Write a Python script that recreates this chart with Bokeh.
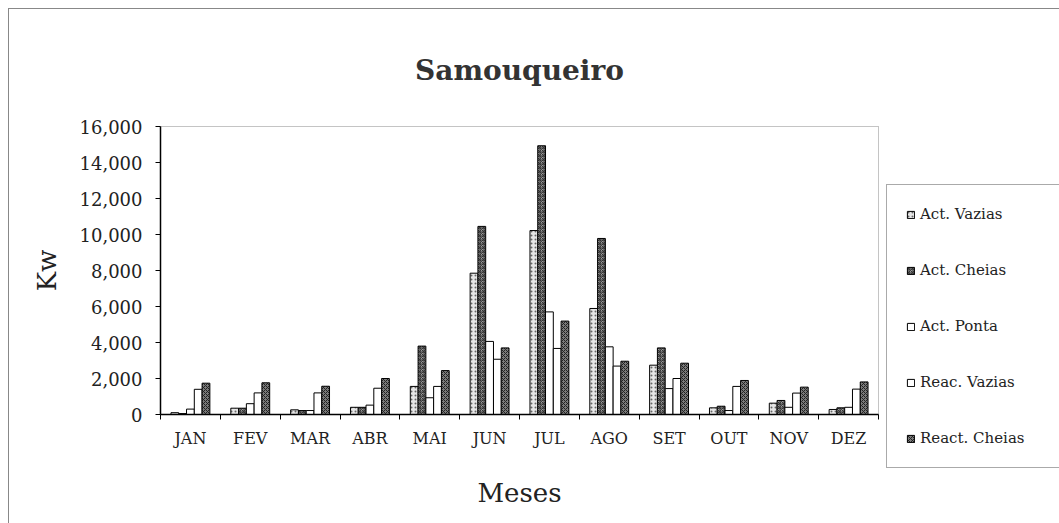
import numpy as np
from bokeh.plotting import figure
from bokeh.layouts import row, column
from bokeh.models import (ColumnDataSource, FixedTicker, NumeralTickFormatter,
                          Legend, LegendItem, Title, Range1d)
from bokeh.embed import file_html
from bokeh.resources import INLINE

months = ["JAN", "FEV", "MAR", "ABR", "MAI", "JUN", "JUL", "AGO", "SET", "OUT", "NOV", "DEZ"]
series = ["Act. Vazias", "Act. Cheias", "Act. Ponta", "Reac. Vazias", "React. Cheias"]

act_vazias = [100, 350, 260, 400, 1560, 7850, 10220, 5890, 2740, 370, 630, 280]
act_cheias = [50, 350, 220, 400, 3800, 10450, 14930, 9780, 3700, 460, 780, 370]
act_ponta = [300, 600, 220, 520, 930, 4060, 5700, 3760, 1440, 220, 400, 400]
reac_vazias = [1400, 1200, 1200, 1460, 1560, 3070, 3670, 2690, 2000, 1560, 1190, 1410]
reac_cheias = [1740, 1760, 1570, 2000, 2440, 3700, 5190, 2960, 2850, 1890, 1520, 1810]

values = [act_vazias, act_cheias, act_ponta, reac_vazias, reac_cheias]
fills = ["#e6e6e6", "#9a9a9a", "#ffffff", "#ffffff", "#7a7a7a"]
hatches = ["dot", "criss_cross", None, None, "diagonal_cross"]
hatch_colors = ["#666666", "#333333", "#000000", "#000000", "#222222"]

SERIF = "DejaVu Serif"
H = 515

p = figure(width=872, height=H, output_backend="svg", toolbar_location=None,
           x_range=Range1d(0, 12), y_range=Range1d(0, 16000),
           min_border_left=151, min_border_right=3, min_border_top=117,
           min_border_bottom=110)
p.styles = {"border-left": "1px solid #888888", "border-top": "1px solid #888888"}

lp = figure(width=179, height=H, output_backend="svg", toolbar_location=None,
            x_range=Range1d(0, 12), y_range=Range1d(0, 16000),
            min_border_left=0, min_border_right=0, min_border_top=0,
            min_border_bottom=0, x_axis_location=None, y_axis_location=None)
lp.styles = {"border-top": "1px solid #888888"}
lp.title.visible = False
lp.grid.visible = False
lp.outline_line_color = None

centers = np.arange(len(months)) + 0.5
bw = 0.13
offsets = [-2 * bw, -bw, 0, bw, 2 * bw]
items = []
for name, vals, fc, hp, hc, off in zip(series, values, fills, hatches, hatch_colors, offsets):
    src = ColumnDataSource(dict(x=centers + off, top=vals))
    kw = {}
    if hp:
        kw = dict(hatch_pattern=hp, hatch_color=hc, hatch_scale=4, hatch_weight=1)
    p.vbar(x="x", top="top", bottom=0, width=bw, source=src, fill_color=fc,
           line_color="black", line_width=1, **kw)
    # hidden copy of the series in the legend panel: only its legend swatch is drawn
    r = lp.vbar(x="x", top="top", bottom=0, width=bw, source=src, fill_color=fc,
                line_color="black", line_width=1, visible=False, **kw)
    items.append(LegendItem(label=name, renderers=[r]))

p.grid.visible = False
p.outline_line_color = "#888888"
p.outline_line_dash = "1 1"

xt = FixedTicker(ticks=list(centers), minor_ticks=list(range(13)))
p.xaxis.ticker = xt
p.xaxis.major_label_overrides = {float(c): m for c, m in zip(centers, months)}
p.xaxis.major_tick_line_color = None
p.xaxis.major_tick_out = 0
p.xaxis.major_tick_in = 0
p.xaxis.minor_tick_in = 0
p.xaxis.minor_tick_out = 5
p.xaxis.minor_tick_line_color = "black"
p.xaxis.axis_line_color = "black"
p.xaxis.axis_line_width = 1.5
p.xaxis.major_label_text_font = SERIF
p.xaxis.major_label_text_font_size = "16px"
p.xaxis.major_label_text_color = "#222222"
p.xaxis.major_label_standoff = 9
p.xaxis.axis_label = "Meses"
p.xaxis.axis_label_text_font = SERIF
p.xaxis.axis_label_text_font_style = "normal"
p.xaxis.axis_label_text_font_size = "26px"
p.xaxis.axis_label_text_color = "#222222"
p.xaxis.axis_label_standoff = 27

p.yaxis.ticker = FixedTicker(ticks=list(range(0, 16001, 2000)))
p.yaxis.formatter = NumeralTickFormatter(format="0,0")
p.yaxis.minor_tick_line_color = None
p.yaxis.major_tick_in = 0
p.yaxis.major_tick_out = 5
p.yaxis.axis_line_color = "black"
p.yaxis.axis_line_width = 1.5
p.yaxis.major_label_text_font = SERIF
p.yaxis.major_label_text_font_size = "18px"
p.yaxis.major_label_text_color = "#222222"
p.yaxis.major_label_standoff = 13
p.yaxis.axis_label = "Kw"
p.yaxis.axis_label_text_font = SERIF
p.yaxis.axis_label_text_font_style = "normal"
p.yaxis.axis_label_text_font_size = "26px"
p.yaxis.axis_label_text_color = "#222222"
p.yaxis.axis_label_standoff = 15

title = Title(text="Samouqueiro", text_font=SERIF, text_font_size="28px",
              text_font_style="bold", text_color="#333333", align="center",
              offset=11, standoff=80)
p.add_layout(title, "above")

legend = Legend(items=items, location=(6, 56), orientation="vertical",
                label_text_font=SERIF, label_text_font_size="15px",
                label_text_color="#222222", glyph_width=9, glyph_height=9,
                label_height=20, spacing=36, padding=19, label_standoff=5,
                label_width=124, border_line_color="#555555",
                border_line_width=1, background_fill_alpha=1, margin=0,
                inactive_fill_alpha=0)
lp.add_layout(legend, "center")

layout = row(p, column(lp, spacing=0), spacing=0, margin=(8, 0, 0, 8))
open("out.html", "w").write(file_html(layout, INLINE))
